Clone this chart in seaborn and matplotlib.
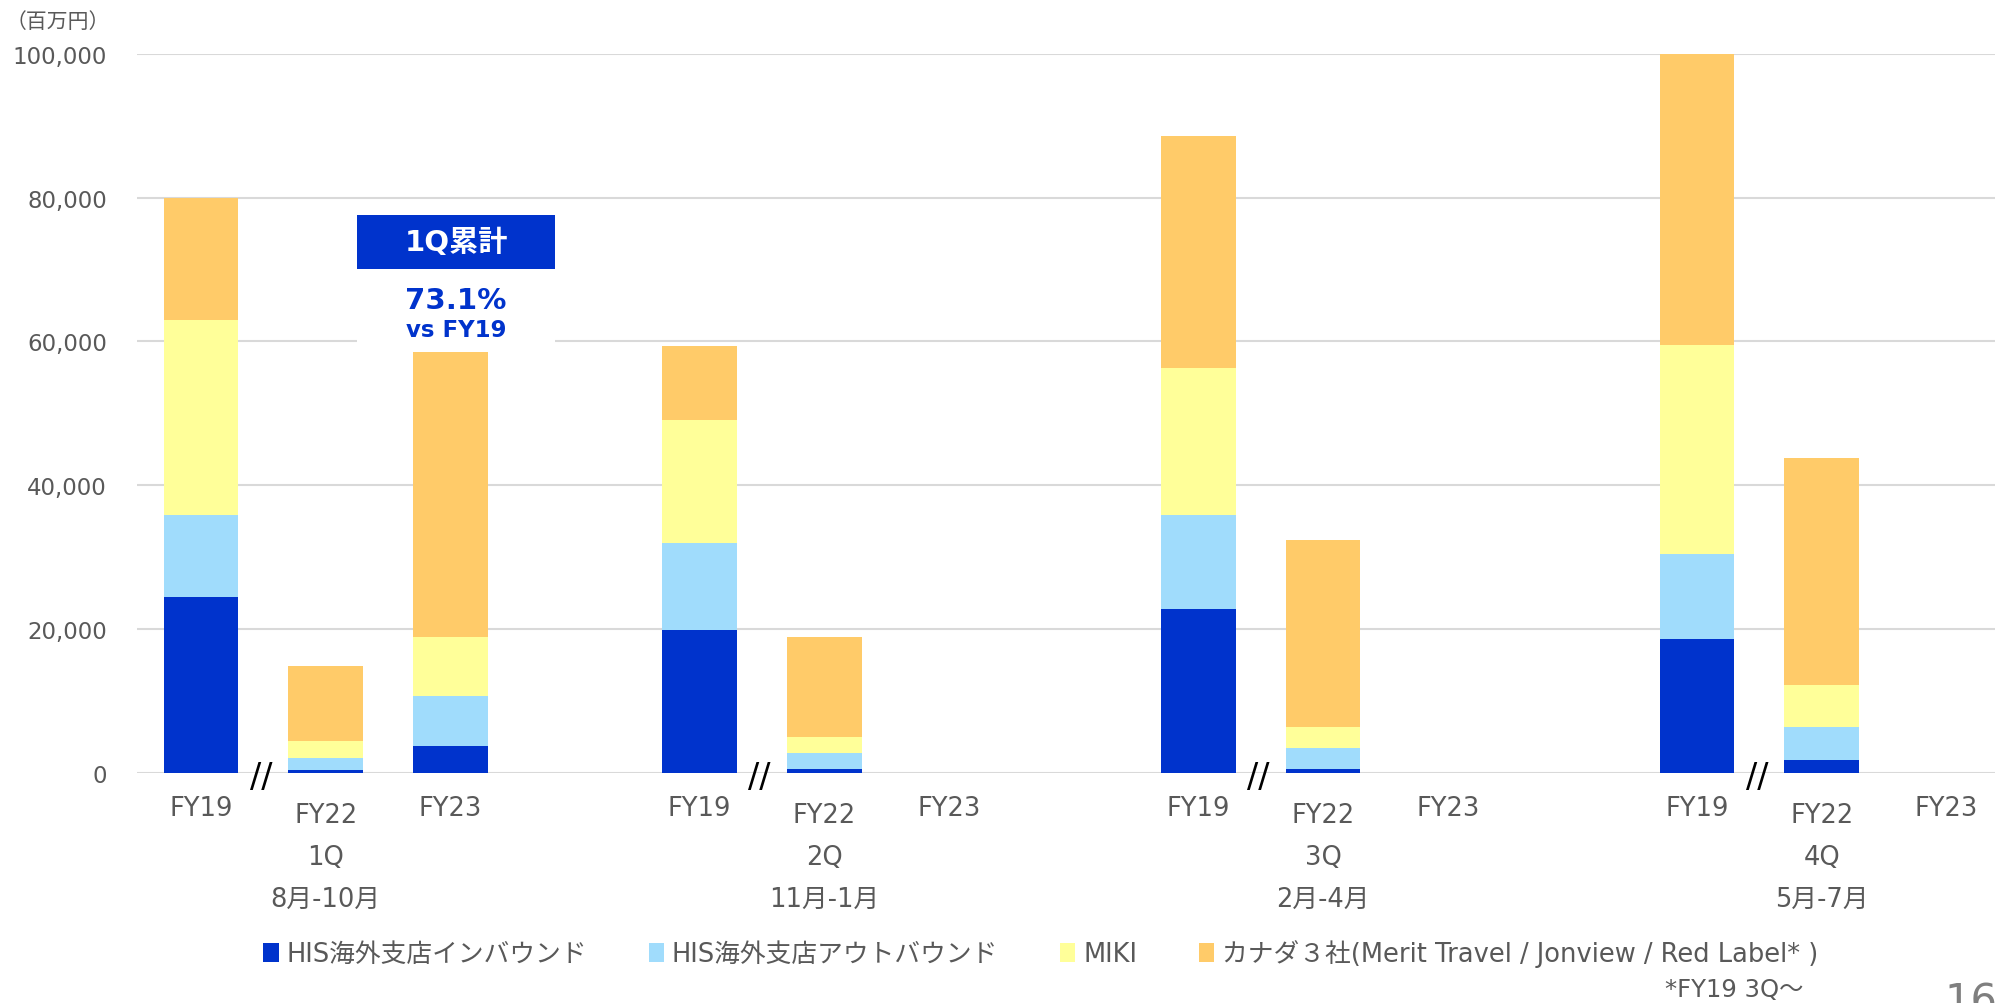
import numpy as np
import pandas as pd
import matplotlib
matplotlib.use("Agg")
import matplotlib.pyplot as plt
import matplotlib.transforms as mtransforms
from matplotlib.patches import Rectangle, Patch
import seaborn as sns

# ---------------- data (百万円) ----------------
quarters = ["1Q", "2Q", "3Q", "4Q"]
months = ["8月-10月", "11月-1月", "2月-4月", "5月-7月"]
years = ["FY19", "FY22", "FY23"]
series_names = ["HIS海外支店インバウンド", "HIS海外支店アウトバウンド", "MIKI",
                "カナダ３社(Merit Travel / Jonview / Red Label* )"]
# values per bar: order 1Q FY19, FY22, FY23, 2Q FY19, FY22, FY23, ...
inbound  = [24400, 350, 3700, 19800, 500, np.nan, 22700, 500, np.nan, 18600, 1800, np.nan]
outbound = [11400, 1750, 6900, 12100, 2200, np.nan, 13100, 2900, np.nan, 11800, 4600, np.nan]
miki     = [27200, 2300, 8300, 17100, 2300, np.nan, 20500, 3000, np.nan, 29100, 5800, np.nan]
canada   = [17000, 10500, 39600, 10300, 13900, np.nan, 32200, 26000, np.nan, 40500, 31500, np.nan]
ratio_text = "73.1%"

colors = ["#0033CC", "#A0DCFC", "#FFFF99", "#FFCB69"]
text_gray = "#595959"

# ---------------- layout helpers ----------------
W, H = 1568.0, 789.0  # reference preview coords
def fy(y):
    return 1 - y / H

positions = []
for g in range(4):
    for b in range(3):
        positions.append(g * 4 + b)

df = pd.DataFrame({
    "pos": positions,
    "year": years * 4,
    "quarter": np.repeat(quarters, 3),
    "s0": inbound, "s1": outbound, "s2": miki, "s3": canada,
}).dropna()
df["c0"] = df["s0"]
df["c1"] = df["c0"] + df["s1"]
df["c2"] = df["c1"] + df["s2"]
df["c3"] = df["c2"] + df["s3"]

sns.set_theme(style="white")
plt.rcParams["font.family"] = ["DejaVu Sans", "Noto Sans CJK JP"]

fig = plt.figure(figsize=(19.95, 10.04), dpi=100)
ax_left = 108 / W
ax_bottom = fy(608)
ax_top = fy(43)
ax = fig.add_axes([ax_left, ax_bottom, 1.0 - ax_left, ax_top - ax_bottom])

# stacked bars via cumulative overlapping bars
for k in [3, 2, 1, 0]:
    sns.barplot(data=df, x="pos", y=f"c{k}", native_scale=True, color=colors[k],
                width=0.6, errorbar=None, ax=ax, saturation=1, zorder=3,
                linewidth=0)

ax.set_xlim(-0.51, 14.39)
ax.set_ylim(0, 100000)
ax.set_yticks(np.arange(0, 100001, 20000))
ax.set_yticklabels([f"{v:,}" for v in range(0, 100001, 20000)], color=text_gray, fontsize=16.5)
ax.tick_params(axis="y", length=0, pad=22)
ax.set_xticks([])
ax.set_xlabel("")
ax.set_ylabel("")
for s in ax.spines.values():
    s.set_visible(False)
ax.grid(axis="y", color="#D9D9D9", linewidth=1.5, zorder=0)
ax.set_axisbelow(True)
for p in ax.patches:
    p.set_clip_on(False)

# x labels
trans = mtransforms.blended_transform_factory(ax.transData, fig.transFigure)
for i, pos in enumerate(positions):
    yr = years[i % 3]
    ypix = 641 if yr == "FY22" else 636
    ax.text(pos, fy(ypix), yr, transform=trans, ha="center", va="center",
            fontsize=18.5, color=text_gray)
for g in range(4):
    c = g * 4 + 1
    ax.text(c, fy(674), quarters[g], transform=trans, ha="center", va="center",
            fontsize=18.5, color=text_gray)
    ax.text(c, fy(707), months[g], transform=trans, ha="center", va="center",
            fontsize=18.5, color=text_gray)
    # break marks
    ax.text(g * 4 + 0.48, fy(611), "//", transform=trans, ha="center", va="center",
            fontsize=24, color="black", zorder=5)

# annotation box
ax.add_patch(Rectangle((1.255, 59600), 2.837 - 1.255, 70100 - 59600,
                       facecolor="white", edgecolor="none", zorder=1))
ax.add_patch(Rectangle((1.255, 70100), 2.837 - 1.255, 77500 - 70100,
                       facecolor="#0033CC", edgecolor="none", zorder=4))
cx = (1.255 + 2.837) / 2
ax.text(cx, 73800, "1Q累計", ha="center", va="center", color="white",
        fontsize=21, fontweight="bold", zorder=5)
ax.text(cx, 65700, ratio_text, ha="center", va="center", color="#0033CC",
        fontsize=21, fontweight="bold", zorder=5)
ax.text(cx, 61600, "vs FY19", ha="center", va="center", color="#0033CC",
        fontsize=16.5, fontweight="bold", zorder=5)

# unit label
fig.text(4 / W, fy(17), "（百万円）", ha="left", va="center", fontsize=15,
         color=text_gray)

# legend
handles = [Patch(facecolor=colors[k], edgecolor="none", label=series_names[k]) for k in range(4)]
fig.legend(handles=handles, loc="center", bbox_to_anchor=((206 + 1430) / 2 / W, fy(750)), ncol=4,
           frameon=False, fontsize=18.5, handlelength=0.6, handleheight=0.8,
           handletextpad=0.3, columnspacing=2.4, labelcolor=text_gray,
           borderpad=0, borderaxespad=0)
fig.text(1309 / W, fy(778), "*FY19 3Q～", ha="left", va="center", fontsize=17.5,
         color=text_gray)
fig.text(1528 / W, fy(797), "16", ha="left", va="baseline", fontsize=30,
         color="#7F7F7F")

fig.savefig("out.png", dpi=100)
